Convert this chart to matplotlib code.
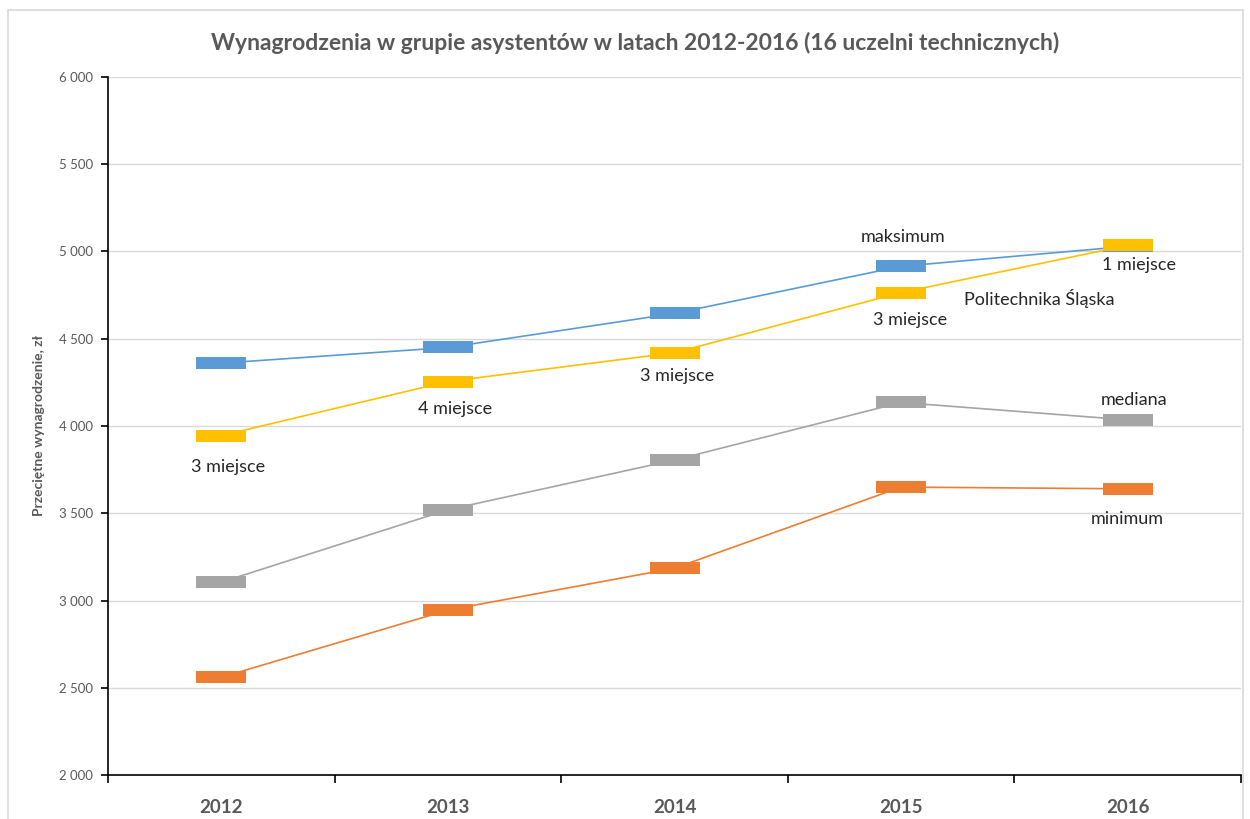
import numpy as np
import matplotlib.pyplot as plt
from matplotlib.patches import Rectangle
from matplotlib.ticker import FuncFormatter, FixedLocator

years = ['2012', '2013', '2014', '2015', '2016']
maksimum = [4360, 4450, 4645, 4915, 5030]
polsl = [3945, 4255, 4420, 4765, 5035]
mediana = [3105, 3520, 3805, 4135, 4035]
minimum = [2560, 2945, 3185, 3650, 3640]

plt.rcParams['font.family'] = ['Lato', 'DejaVu Sans']

fig = plt.figure(figsize=(12.5, 8.19), dpi=100)
fig.patches.append(Rectangle((8/1250, -3/819), 1235/1250, 812/819, transform=fig.transFigure,
                             fill=False, edgecolor='#d9d9d9', linewidth=1.2))
ax = fig.add_axes([108/1250, 44/819, 1133/1250, 698/819])

x = np.arange(len(years))
bar = [(-4.5, -1), (4.5, -1), (4.5, 1), (-4.5, 1)]
series = [(maksimum, '#5b9bd5'), (polsl, '#ffc000'), (mediana, '#a5a5a5'), (minimum, '#ed7d31')]
for vals, col in series:
    ax.plot(x, vals, color=col, linewidth=1.2, marker=bar, markersize=36,
            markeredgewidth=0, markerfacecolor=col, zorder=3)

ax.set_xlim(-0.5, 4.5)
ax.set_ylim(2000, 6000)
ax.set_yticks(np.arange(2000, 6001, 500))
ax.yaxis.set_major_formatter(FuncFormatter(lambda v, p: f'{int(v):,}'.replace(',', ' ')))
ax.grid(axis='y', color='#d9d9d9', linewidth=1)
ax.set_axisbelow(True)

ax.set_xticks(x)
ax.set_xticklabels(years, fontsize=13.5, fontweight='bold', color='#595959')
ax.xaxis.set_minor_locator(FixedLocator(np.arange(-0.5, 5, 1)))
ax.tick_params(axis='x', which='major', length=0, pad=17)
ax.tick_params(axis='x', which='minor', length=6, width=1.2, color='black')
ax.tick_params(axis='y', length=5, width=1.2, color='black', labelsize=9.5, labelcolor='#595959', pad=6)

for s in ['top', 'right']:
    ax.spines[s].set_visible(False)
for s in ['left', 'bottom']:
    ax.spines[s].set_linewidth(1.2)
    ax.spines[s].set_color('black')

ax.set_ylabel('Przeciętne wynagrodzenie, zł', fontsize=10, fontweight='bold', color='#595959')
ax.yaxis.set_label_coords(-0.056, 0.5)

fig.text(0.508, 0.948, 'Wynagrodzenia w grupie asystentów w latach 2012-2016 (16 uczelni technicznych)',
         ha='center', va='center', fontsize=16.5, fontweight='bold', color='#595959')

labels = [
    (0.03, 3765, '3 miejsce'),
    (1.03, 4097, '4 miejsce'),
    (2.01, 4287, '3 miejsce'),
    (3.01, 5083, 'maksimum'),
    (3.04, 4607, '3 miejsce'),
    (3.61, 4733, 'Politechnika Śląska'),
    (4.05, 4923, '1 miejsce'),
    (4.03, 4149, 'mediana'),
    (4.0, 3467, 'minimum'),
]
for lx, ly, t in labels:
    ax.text(lx, ly, t, ha='center', va='center', fontsize=13, color='#262626')

fig.savefig('out.png', dpi=100)
